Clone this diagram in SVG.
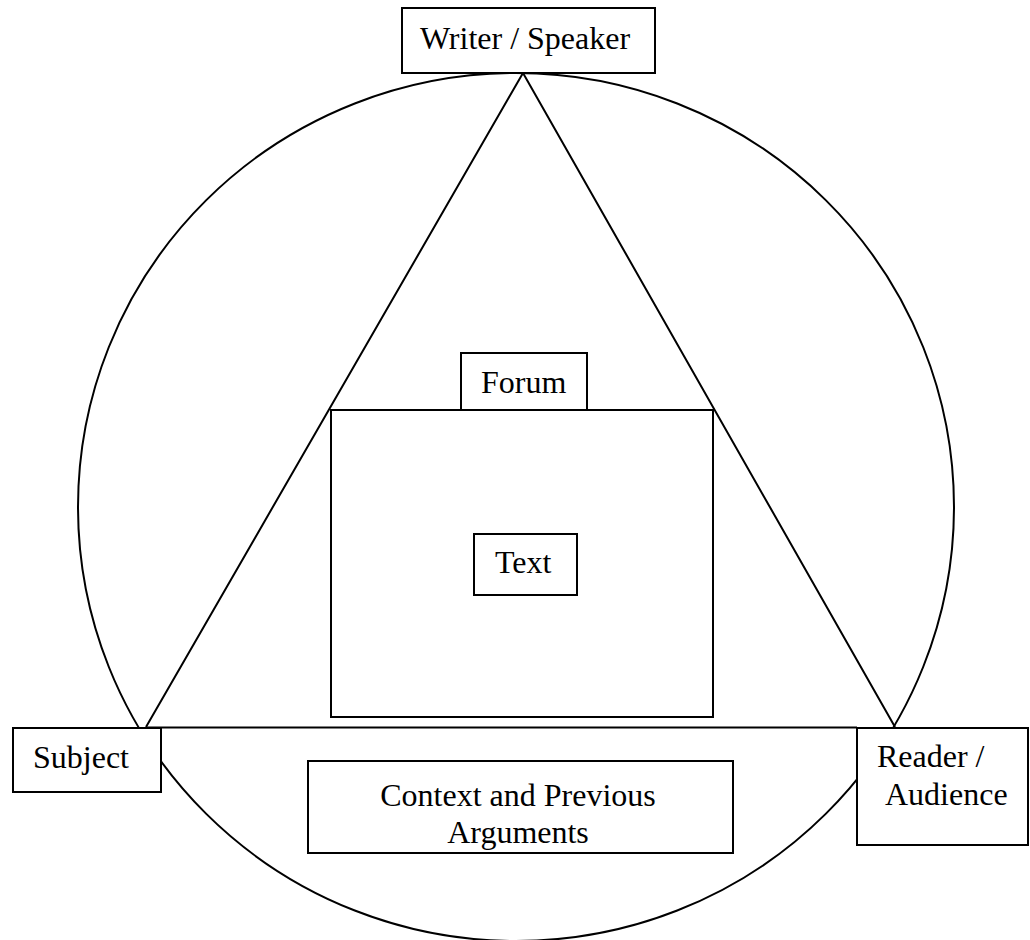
<svg xmlns="http://www.w3.org/2000/svg" width="1030" height="940" viewBox="0 0 1030 940">
<style>
.box{fill:#fff;stroke:#000;stroke-width:2}
.ln{fill:none;stroke:#000;stroke-width:2}
text{font-family:"Liberation Serif","Times New Roman",serif;font-size:32px;fill:#000}
</style>
<rect width="1030" height="940" fill="#fff"/>
<g id="connectors">
<ellipse class="ln" cx="516" cy="507" rx="438" ry="434"/>
<polyline class="ln" points="146,727 523,73 895,727"/>
<line class="ln" x1="146" y1="727.5" x2="857" y2="727.5"/>
</g>
<g id="writer">
<rect class="box" x="402" y="8" width="253" height="65"/>
<text x="525" y="49" text-anchor="middle">Writer / Speaker</text>
</g>
<g id="forum-text-area">
<rect class="box" x="331" y="410" width="382" height="307"/>
</g>
<g id="forum">
<rect class="box" x="461" y="353" width="126" height="57"/>
<text x="481" y="393">Forum</text>
</g>
<g id="text">
<rect class="box" x="474" y="534" width="103" height="61"/>
<text x="495" y="573">Text</text>
</g>
<g id="subject">
<rect class="box" x="13" y="728" width="148" height="64"/>
<text x="33" y="768">Subject</text>
</g>
<g id="reader">
<rect class="box" x="857" y="728" width="171" height="117"/>
<text x="877" y="767">Reader /</text>
<text x="885" y="805">Audience</text>
</g>
<g id="context">
<rect class="box" x="308" y="761" width="425" height="92"/>
<text x="518" y="806" text-anchor="middle">Context and Previous</text>
<text x="518" y="843" text-anchor="middle">Arguments</text>
</g>
</svg>
